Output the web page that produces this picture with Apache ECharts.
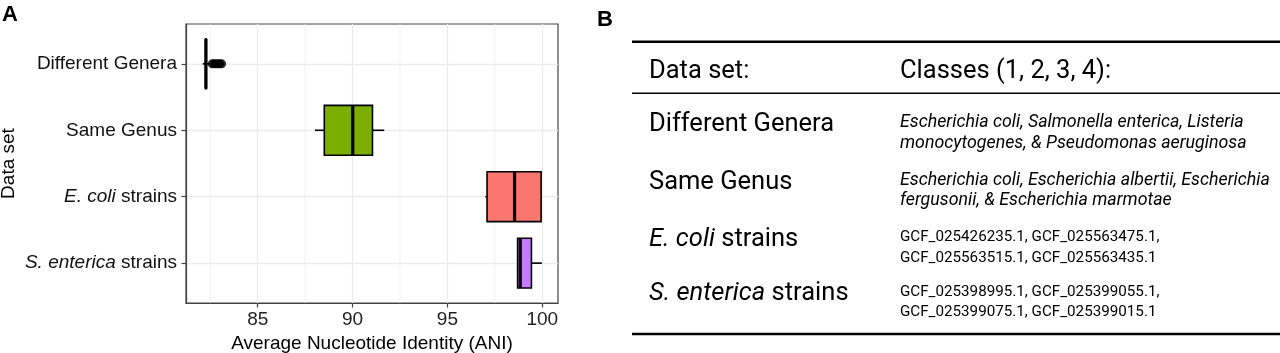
<!DOCTYPE html>
<html>
<head>
<meta charset="utf-8">
<title>ANI by data set</title>
<script src="https://cdn.jsdelivr.net/npm/echarts@6/dist/echarts.min.js"></script>
<style>
  html, body { margin: 0; padding: 0; background: #fff; }
  #chart { width: 1280px; height: 353px; }
</style>
</head>
<body>
<div id="chart"></div>
<script>
// data sets on the y axis, top to bottom
const categories = ['Different Genera', 'Same Genus', 'E. coli strains', 'S. enterica strains'];
const italicPart = ['', '', 'E. coli', 'S. enterica'];
const boxColors = ['#00BFC4', '#7CAE00', '#F8766D', '#C77CFF'];
// [lower whisker, Q1, median, Q3, upper whisker]
const boxStats = [
  [82.10, 82.25, 82.27, 82.29, 82.45],
  [88.02, 88.51, 90.01, 91.05, 91.67],
  [97.00, 97.09, 98.54, 99.94, 99.96],
  [98.70, 98.70, 98.84, 99.43, 99.98]
];
// outliers: [ANI, data set index]
const outliers = [[82.6, 0], [82.7, 0], [82.8, 0], [82.9, 0], [83.0, 0], [83.1, 0]];
const xTicks = [85, 90, 95, 100];
const xMinorGrid = [82.5, 87.5, 92.5, 97.5];
const yTicks = [0, 1, 2, 3];

// panel B table
const tableHeader = ['Data set:', 'Classes (1, 2, 3, 4):'];
const tableRows = ['Different Genera', 'Same Genus', '{i|E. coli} strains', '{i|S. enterica} strains'];
const tableClasses = [
  ['Escherichia coli, Salmonella enterica, Listeria', 'monocytogenes, & Pseudomonas aeruginosa'],
  ['Escherichia coli, Escherichia albertii, Escherichia', 'fergusonii, & Escherichia marmotae'],
  ['GCF_025426235.1, GCF_025563475.1,', 'GCF_025563515.1, GCF_025563435.1'],
  ['GCF_025398995.1, GCF_025399055.1,', 'GCF_025399075.1, GCF_025399015.1']
];
const classesItalic = [true, true, false, false];

const FONT = '"Liberation Sans", Arial, sans-serif';
const TFONT = 'Roboto, "Noto Sans", sans-serif';
const AX = 19;

const chart = echarts.init(document.getElementById('chart'));

function yLabel(i) {
  const it = italicPart[i];
  if (!it) return categories[i];
  return '{i|' + it + '}' + categories[i].slice(it.length);
}

function renderBox(params, api) {
  const i = api.value(0);
  const lo = api.coord([api.value(1), i]);
  const q1 = api.coord([api.value(2), i]);
  const md = api.coord([api.value(3), i]);
  const q3 = api.coord([api.value(4), i]);
  const hi = api.coord([api.value(5), i]);
  const h = api.size([0, 0.75])[1];
  const cy = q1[1];
  const line = { stroke: '#000', lineWidth: 1.6 };
  return {
    type: 'group',
    children: [
      { type: 'line', shape: { x1: lo[0], y1: cy, x2: q1[0], y2: cy }, style: line },
      { type: 'line', shape: { x1: q3[0], y1: cy, x2: hi[0], y2: cy }, style: line },
      {
        type: 'rect',
        shape: { x: q1[0], y: cy - h / 2, width: q3[0] - q1[0], height: h },
        style: { fill: boxColors[i], stroke: '#000', lineWidth: 1.6 }
      },
      { type: 'line', shape: { x1: md[0], y1: cy - h / 2, x2: md[0], y2: cy + h / 2 }, style: { stroke: '#000', lineWidth: 3.2 } }
    ]
  };
}

// minor vertical grid lines between the labelled ticks
function renderMinor(params, api) {
  const a = api.coord([api.value(0), -0.6]);
  const b = api.coord([api.value(0), 3.6]);
  return { type: 'line', shape: { x1: a[0], y1: a[1], x2: b[0], y2: b[1] }, style: { stroke: '#EDEDED', lineWidth: 0.8 } };
}

// table graphics
const colX = [649, 900];
const rowY = [125, 182.5, 239.5, 294];
const graphics = [
  { type: 'text', x: 2, y: 4, style: { text: 'A', font: 'bold 22px ' + FONT, fill: '#000' } },
  { type: 'text', x: 597, y: 9, style: { text: 'B', font: 'bold 22px ' + FONT, fill: '#000' } }
];
[[41.7, 2.6], [93.3, 1.4], [334, 2.6]].forEach(([y, w]) => {
  graphics.push({ type: 'line', shape: { x1: 632, y1: y, x2: 1280, y2: y }, style: { stroke: '#000', lineWidth: w } });
});
tableHeader.forEach((t, k) => {
  graphics.push({ type: 'text', x: colX[k], y: 72, style: { text: t, fontSize: 25.5, fontFamily: TFONT, fill: '#000', verticalAlign: 'middle' } });
});
tableRows.forEach((t, r) => {
  graphics.push({
    type: 'text', x: colX[0], y: rowY[r],
    style: {
      text: t, fontSize: 25.5, fontFamily: TFONT, fill: '#000', verticalAlign: 'middle',
      rich: { i: { fontSize: 25.5, fontFamily: TFONT, fontStyle: 'italic', fill: '#000' } }
    }
  });
  tableClasses[r].forEach((line, l) => {
    graphics.push({
      type: 'text', x: colX[1], y: rowY[r] - 2 + l * 20.5,
      style: {
        text: line,
        fontSize: classesItalic[r] ? 17.8 : 15.2,
        fontStyle: classesItalic[r] ? 'italic' : 'normal',
        fontFamily: TFONT, fill: '#000', verticalAlign: 'middle'
      }
    });
  });
});

const option = {
  animation: false,
  grid: {
    left: 186, top: 24, width: 372, height: 279,
    show: true, borderColor: '#444', borderWidth: 1.2,
    outerBoundsMode: 'none'
  },
  xAxis: {
    type: 'value',
    min: 81.22,
    max: 100.83,
    name: 'Average Nucleotide Identity (ANI)',
    nameLocation: 'middle',
    nameGap: 25,
    nameTextStyle: { fontFamily: FONT, fontSize: AX, color: '#000' },
    axisLine: { show: true, onZero: false, lineStyle: { color: '#444', width: 1.2 } },
    axisTick: { show: true, length: 4.5, customValues: xTicks, lineStyle: { color: '#444', width: 1.2 } },
    axisLabel: { customValues: xTicks, margin: 7, fontFamily: FONT, fontSize: AX, color: '#222' },
    splitLine: { show: true, lineStyle: { color: '#EBEBEB', width: 1.3 } }
  },
  yAxis: {
    type: 'value',
    min: -0.6,
    max: 3.6,
    inverse: true,
    name: 'Data set',
    nameLocation: 'middle',
    nameGap: 168,
    nameTextStyle: { fontFamily: FONT, fontSize: AX, color: '#000' },
    axisLine: { show: true, onZero: false, lineStyle: { color: '#444', width: 1.2 } },
    axisTick: { show: true, length: 4.5, customValues: yTicks, lineStyle: { color: '#444', width: 1.2 } },
    axisLabel: {
      customValues: yTicks,
      margin: 9,
      fontFamily: FONT, fontSize: AX, color: '#111',
      formatter: (v) => yLabel(Math.round(v)),
      rich: { i: { fontFamily: FONT, fontSize: AX, fontStyle: 'italic', color: '#111' } }
    },
    splitLine: { show: true, lineStyle: { color: '#EBEBEB', width: 1.3 } }
  },
  series: [
    {
      type: 'custom',
      z: 1,
      silent: true,
      renderItem: renderMinor,
      encode: { x: 0, y: 1 },
      data: xMinorGrid.map((v) => [v, 0])
    },
    {
      type: 'custom',
      z: 3,
      renderItem: renderBox,
      encode: { x: [1, 2, 3, 4, 5], y: 0 },
      data: boxStats.map((s, i) => [i].concat(s))
    },
    {
      type: 'scatter',
      z: 4,
      symbolSize: 9,
      itemStyle: { color: '#000' },
      data: outliers
    }
  ],
  graphic: graphics
};

chart.setOption(option);
</script>
</body>
</html>
